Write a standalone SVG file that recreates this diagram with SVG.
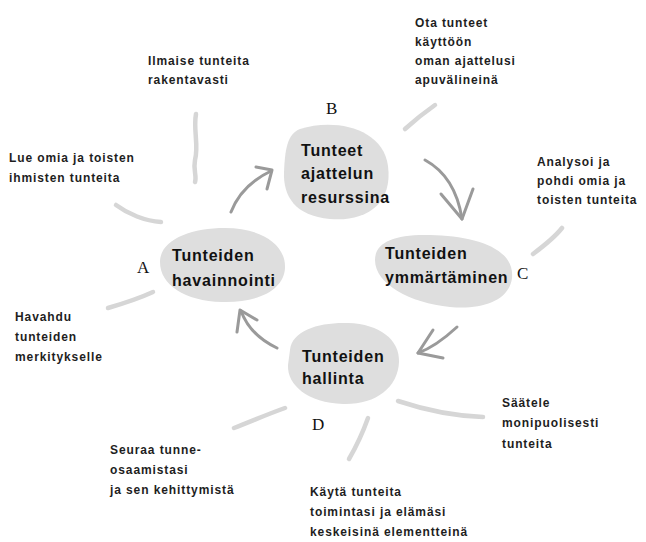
<svg xmlns="http://www.w3.org/2000/svg" width="646" height="542" viewBox="0 0 646 542">
<defs>
<style>
.blob{fill:#dedede;stroke:none}
.nt{font-family:"Liberation Sans",Arial,sans-serif;font-weight:bold;font-size:16px;letter-spacing:0.8px;fill:#111}
.an{font-family:"Liberation Sans",Arial,sans-serif;font-weight:bold;font-size:12px;letter-spacing:0.9px;fill:#1e1e1e}
.lt{font-family:"Liberation Serif","Times New Roman",serif;font-size:17px;fill:#111}
.arr{fill:none;stroke:#9a9a9a;stroke-width:3;stroke-linecap:round;stroke-linejoin:round}
.brush{fill:none;stroke:#d6d6d6;stroke-width:4.5;stroke-linecap:round}
</style>
</defs>
<rect width="646" height="542" fill="#ffffff"/>

<g id="connectors">
<path class="arr" d="M231,212 C238,194 252,180 271,171"/>
<path class="arr" d="M256,167 L272,170 L267,189"/>
<path class="arr" d="M425,160 C447,172 458,193 462,219"/>
<path class="arr" d="M441,194 L462,219 L473,189"/>
<path class="arr" d="M457,327 C444,339 432,348 418,353"/>
<path class="arr" d="M433,330 L418,353 L443,358"/>
<path class="arr" d="M277,348 C260,340 247,327 241,311"/>
<path class="arr" d="M237,332 L240,310 L257,320"/>

<path class="brush" d="M196,114 C193,130 199,145 195,160 C193,170 197,176 195,182"/>
<path class="brush" d="M116,205 C128,214 145,221 161,222"/>
<path class="brush" d="M405,129 C415,120 425,112 435,105"/>
<path class="brush" d="M533,254 C545,245 555,237 562,228"/>
<path class="brush" d="M108,308 C125,303 140,298 153,292"/>
<path class="brush" d="M234,428 C252,421 268,414 285,408"/>
<path class="brush" d="M368,418 C363,432 356,447 349,459"/>
<path class="brush" d="M398,401 C425,410 455,416 483,417"/>
</g>

<g id="node-B">
<path class="blob" d="M300,129 C335,118 383,128 388,166 C393,205 365,222 330,219 C295,216 283,196 284,172 C285,150 287,134 300,129 Z"/>
<text class="nt" x="301" y="156">Tunteet</text>
<text class="nt" x="301" y="179">ajattelun</text>
<text class="nt" x="301" y="203">resurssina</text>
<text class="lt" x="326" y="114">B</text>
</g>

<g id="node-A">
<path class="blob" d="M160,262 C160,240 190,228 225,228 C262,228 286,245 285,268 C284,290 258,303 222,302 C185,301 160,285 160,262 Z"/>
<text class="nt" x="172" y="261">Tunteiden</text>
<text class="nt" x="172" y="286">havainnointi</text>
<text class="lt" x="137" y="273">A</text>
</g>

<g id="node-C">
<path class="blob" d="M375,260 C375,242 395,234 430,235 C475,236 515,248 512,278 C509,302 480,310 450,307 C410,303 375,284 375,260 Z"/>
<text class="nt" x="385" y="259">Tunteiden</text>
<text class="nt" x="385" y="283">ymmärtäminen</text>
<text class="lt" x="517" y="279">C</text>
</g>

<g id="node-D">
<path class="blob" d="M290,350 C292,330 320,322 348,323 C380,324 400,340 399,362 C398,388 375,405 343,404 C308,403 287,385 288,365 Z"/>
<text class="nt" x="302" y="362">Tunteiden</text>
<text class="nt" x="302" y="384">hallinta</text>
<text class="lt" x="312" y="430">D</text>
</g>

<g id="labels">
<text class="an" x="148" y="65">Ilmaise tunteita</text>
<text class="an" x="148" y="84">rakentavasti</text>

<text class="an" x="415" y="27">Ota tunteet</text>
<text class="an" x="415" y="46">käyttöön</text>
<text class="an" x="415" y="65">oman ajattelusi</text>
<text class="an" x="415" y="84">apuvälineinä</text>

<text class="an" x="9" y="162">Lue omia ja toisten</text>
<text class="an" x="9" y="182">ihmisten tunteita</text>

<text class="an" x="537" y="166">Analysoi ja</text>
<text class="an" x="537" y="185">pohdi omia ja</text>
<text class="an" x="537" y="204">toisten tunteita</text>

<text class="an" x="15" y="321">Havahdu</text>
<text class="an" x="15" y="341">tunteiden</text>
<text class="an" x="15" y="361">merkitykselle</text>

<text class="an" x="110" y="454">Seuraa tunne-</text>
<text class="an" x="110" y="474">osaamistasi</text>
<text class="an" x="110" y="494">ja sen kehittymistä</text>

<text class="an" x="310" y="496">Käytä tunteita</text>
<text class="an" x="310" y="516">toimintasi ja elämäsi</text>
<text class="an" x="310" y="536">keskeisinä elementteinä</text>

<text class="an" x="502" y="407">Säätele</text>
<text class="an" x="502" y="427">monipuolisesti</text>
<text class="an" x="502" y="448">tunteita</text>
</g>
</svg>
